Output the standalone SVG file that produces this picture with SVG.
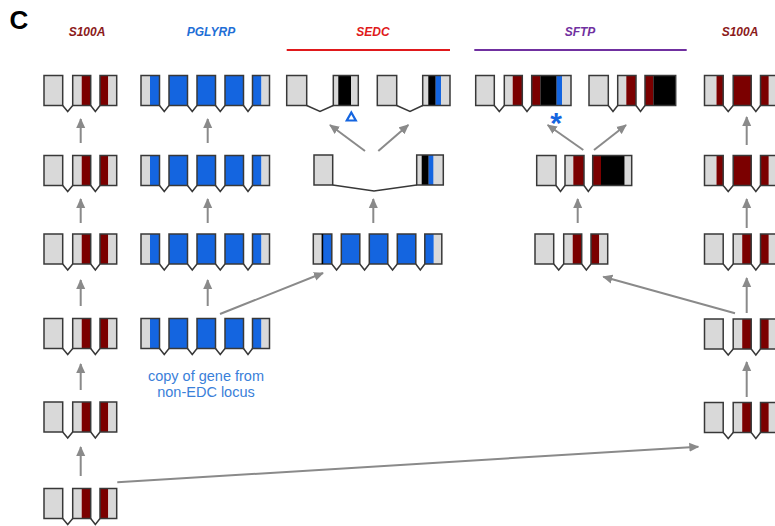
<svg xmlns="http://www.w3.org/2000/svg" width="775" height="526" viewBox="0 0 775 526">
<style>
.gr{fill:#d9d9d9}
.rd{fill:#7b0000}
.bl{fill:#1465e0}
.bk{fill:#000}
.ex{fill:none;stroke:#383838;stroke-width:1.5}
.in{fill:none;stroke:#383838;stroke-width:1.5;stroke-linejoin:miter}
.hd{font-family:"Liberation Sans",Arial,sans-serif;font-size:12px;font-weight:bold;font-style:italic;text-anchor:middle}
.cap{font-family:"Liberation Sans",Arial,sans-serif;font-size:14.5px;fill:#3a80d9;text-anchor:middle}
.ar{fill:none;stroke:#8a8a8a;stroke-width:2;marker-end:url(#ah)}
</style>
<defs>
<marker id="ah" markerUnits="userSpaceOnUse" markerWidth="10" markerHeight="10" viewBox="0 0 10 10" refX="9" refY="5" orient="auto">
<path d="M0,0.5 L10,5 L0,9.5 z" fill="#8a8a8a"/>
</marker>
<g id="s100a">
<rect class="gr" x="0" y="0" width="18.7" height="30"/>
<rect class="gr" x="28.7" y="0" width="9" height="30"/>
<rect class="rd" x="37.7" y="0" width="9" height="30"/>
<rect class="rd" x="56" y="0" width="8.3" height="30"/>
<rect class="gr" x="64.3" y="0" width="8.4" height="30"/>
<rect class="ex" x="0" y="0" width="18.7" height="30"/>
<rect class="ex" x="28.7" y="0" width="18" height="30"/>
<rect class="ex" x="56" y="0" width="16.7" height="30"/>
<polyline class="in" points="18.7,30 23.7,36 28.7,30"/>
<polyline class="in" points="46.7,30 51.35,36 56,30"/>
</g>
<g id="s100b">
<rect class="gr" x="0" y="0" width="12" height="30"/>
<rect class="rd" x="12" y="0" width="6.7" height="30"/>
<rect class="rd" x="28.7" y="0" width="18" height="30"/>
<rect class="rd" x="56" y="0" width="8.3" height="30"/>
<rect class="gr" x="64.3" y="0" width="8.4" height="30"/>
<rect class="ex" x="0" y="0" width="18.7" height="30"/>
<rect class="ex" x="28.7" y="0" width="18" height="30"/>
<rect class="ex" x="56" y="0" width="16.7" height="30"/>
<polyline class="in" points="18.7,30 23.7,36 28.7,30"/>
<polyline class="in" points="46.7,30 51.35,36 56,30"/>
</g>
<g id="pglyrp">
<rect class="gr" x="0" y="0" width="9" height="30"/>
<rect class="bl" x="9" y="0" width="9.5" height="30"/>
<rect class="bl" x="28" y="0" width="18.5" height="30"/>
<rect class="bl" x="56" y="0" width="18.5" height="30"/>
<rect class="bl" x="84" y="0" width="18.5" height="30"/>
<rect class="bl" x="111.5" y="0" width="9" height="30"/>
<rect class="gr" x="120.5" y="0" width="8" height="30"/>
<rect class="ex" x="0" y="0" width="18.5" height="30"/>
<rect class="ex" x="28" y="0" width="18.5" height="30"/>
<rect class="ex" x="56" y="0" width="18.5" height="30"/>
<rect class="ex" x="84" y="0" width="18.5" height="30"/>
<rect class="ex" x="111.5" y="0" width="17" height="30"/>
<polyline class="in" points="18.5,30 23.25,36 28,30"/>
<polyline class="in" points="46.5,30 51.25,36 56,30"/>
<polyline class="in" points="74.5,30 79.25,36 84,30"/>
<polyline class="in" points="102.5,30 107,36 111.5,30"/>
</g>
</defs>
<rect width="775" height="526" fill="#fff"/>

<g id="labels">
<text x="9.5" y="29" font-family="'Liberation Sans',Arial,sans-serif" font-size="26" font-weight="bold" fill="#000">C</text>
<text class="hd" x="87" y="36" fill="#8b1a1a">S100A</text>
<text class="hd" x="211" y="36" fill="#1f6fd6">PGLYRP</text>
<text class="hd" x="373" y="36" fill="#e0191b">SEDC</text>
<text class="hd" x="580" y="36" fill="#7030a0">SFTP</text>
<text class="hd" x="740" y="36" fill="#8b1a1a">S100A</text>
<line x1="286.7" y1="50" x2="450" y2="50" stroke="#e0191b" stroke-width="2"/>
<line x1="474.3" y1="50" x2="686.7" y2="50" stroke="#7030a0" stroke-width="2"/>
<text class="cap" x="206" y="380.5">copy of gene from</text>
<text class="cap" x="206" y="397">non-EDC locus</text>
</g>

<g id="s100a-left-1"><use href="#s100a" x="44" y="75.5"/></g>
<g id="s100a-left-2"><use href="#s100a" x="44" y="155.5"/></g>
<g id="s100a-left-3"><use href="#s100a" x="44" y="234"/></g>
<g id="s100a-left-4"><use href="#s100a" x="44" y="318.5"/></g>
<g id="s100a-left-5"><use href="#s100a" x="44" y="402"/></g>
<g id="s100a-left-6"><use href="#s100a" x="44" y="488.5"/></g>

<g id="pglyrp-1"><use href="#pglyrp" x="141" y="75.5"/></g>
<g id="pglyrp-2"><use href="#pglyrp" x="141" y="155.5"/></g>
<g id="pglyrp-3"><use href="#pglyrp" x="141" y="234"/></g>
<g id="pglyrp-4"><use href="#pglyrp" x="141" y="318.5"/></g>

<g id="sedc-3">
<use href="#pglyrp" x="313.3" y="234"/>
<rect class="bk" x="321.6" y="234" width="1.6" height="30"/>
</g>
<g id="sedc-2">
<rect class="gr" x="314" y="155" width="18.7" height="30"/>
<rect class="gr" x="416.7" y="155" width="26.6" height="30"/>
<rect class="bk" x="421.7" y="155" width="7" height="30"/>
<rect class="bl" x="428.7" y="155" width="4.6" height="30"/>
<rect class="ex" x="314" y="155" width="18.7" height="30"/>
<rect class="ex" x="416.7" y="155" width="26.6" height="30"/>
<polyline class="in" points="332.7,185 374,191 416.7,185"/>
</g>
<g id="sedc-1a">
<rect class="gr" x="286.7" y="75.5" width="20" height="30"/>
<rect class="gr" x="333.3" y="75.5" width="25" height="30"/>
<rect class="bk" x="338.3" y="75.5" width="12.7" height="30"/>
<rect class="ex" x="286.7" y="75.5" width="20" height="30"/>
<rect class="ex" x="333.3" y="75.5" width="25" height="30"/>
<polyline class="in" points="306.7,105.5 320,111.5 333.3,105.5"/>
<polygon points="346.8,120.5 355.8,120.5 351.3,112.5" fill="none" stroke="#1465e0" stroke-width="2.2" stroke-linejoin="miter"/>
</g>
<g id="sedc-1b">
<rect class="gr" x="377.3" y="75.5" width="19.4" height="30"/>
<rect class="gr" x="422.7" y="75.5" width="27.3" height="30"/>
<rect class="bk" x="428.3" y="75.5" width="7.4" height="30"/>
<rect class="bl" x="435.7" y="75.5" width="5.3" height="30"/>
<rect class="ex" x="377.3" y="75.5" width="19.4" height="30"/>
<rect class="ex" x="422.7" y="75.5" width="27.3" height="30"/>
<polyline class="in" points="396.7,105.5 410,111.5 422.7,105.5"/>
</g>

<g id="sftp-3"><use href="#s100a" x="535" y="234"/></g>
<g id="sftp-2">
<rect class="gr" x="536.7" y="155.5" width="19.3" height="30"/>
<rect class="gr" x="565" y="155.5" width="8.3" height="30"/>
<rect class="rd" x="573.3" y="155.5" width="10.7" height="30"/>
<rect class="rd" x="592.7" y="155.5" width="8.3" height="30"/>
<rect class="bk" x="601" y="155.5" width="23.7" height="30"/>
<rect class="gr" x="624.7" y="155.5" width="7" height="30"/>
<rect class="ex" x="536.7" y="155.5" width="19.3" height="30"/>
<rect class="ex" x="565" y="155.5" width="19" height="30"/>
<rect class="ex" x="592.7" y="155.5" width="39" height="30"/>
<polyline class="in" points="556,185.5 560.5,191.5 565,185.5"/>
<polyline class="in" points="584,185.5 588.3,191.5 592.7,185.5"/>
</g>
<g id="sftp-1a">
<rect class="gr" x="475.7" y="75.5" width="18.6" height="30"/>
<rect class="gr" x="504.3" y="75.5" width="8.4" height="30"/>
<rect class="rd" x="512.7" y="75.5" width="9.6" height="30"/>
<rect class="rd" x="531.7" y="75.5" width="8.6" height="30"/>
<rect class="bk" x="540.3" y="75.5" width="16.4" height="30"/>
<rect class="bl" x="556.7" y="75.5" width="5.3" height="30"/>
<rect class="gr" x="562" y="75.5" width="9" height="30"/>
<rect class="ex" x="475.7" y="75.5" width="18.6" height="30"/>
<rect class="ex" x="504.3" y="75.5" width="18" height="30"/>
<rect class="ex" x="531.7" y="75.5" width="39.3" height="30"/>
<polyline class="in" points="494.3,105.5 499.3,111.5 504.3,105.5"/>
<polyline class="in" points="522.3,105.5 527,111.5 531.7,105.5"/>
<text x="556" y="133" font-family="'Liberation Sans',Arial,sans-serif" font-size="30" font-weight="bold" fill="#1465e0" text-anchor="middle">*</text>
</g>
<g id="sftp-1b">
<rect class="gr" x="589" y="75.5" width="19.3" height="30"/>
<rect class="gr" x="617.7" y="75.5" width="8.6" height="30"/>
<rect class="rd" x="626.3" y="75.5" width="9.7" height="30"/>
<rect class="rd" x="645" y="75.5" width="8.3" height="30"/>
<rect class="bk" x="653.3" y="75.5" width="22.4" height="30"/>
<rect class="ex" x="589" y="75.5" width="19.3" height="30"/>
<rect class="ex" x="617.7" y="75.5" width="18.3" height="30"/>
<rect class="ex" x="645" y="75.5" width="30.7" height="30"/>
<polyline class="in" points="608.3,105.5 613,111.5 617.7,105.5"/>
<polyline class="in" points="636,105.5 640.5,111.5 645,105.5"/>
</g>

<g id="s100a-right-1"><use href="#s100b" x="704.5" y="75.5"/></g>
<g id="s100a-right-2"><use href="#s100b" x="704.5" y="155.5"/></g>
<g id="s100a-right-3"><use href="#s100a" x="704.5" y="234"/></g>
<g id="s100a-right-4"><use href="#s100a" x="704.5" y="319"/></g>
<g id="s100a-right-5"><use href="#s100a" x="704.5" y="402.5"/></g>

<g id="connectors">
<line class="ar" x1="80.7" y1="143" x2="80.7" y2="119"/>
<line class="ar" x1="80.7" y1="223" x2="80.7" y2="199"/>
<line class="ar" x1="80.7" y1="306" x2="80.7" y2="280"/>
<line class="ar" x1="80.7" y1="390" x2="80.7" y2="364"/>
<line class="ar" x1="80.7" y1="476" x2="80.7" y2="447"/>
<line class="ar" x1="207.7" y1="143" x2="207.7" y2="119"/>
<line class="ar" x1="207.7" y1="223" x2="207.7" y2="199"/>
<line class="ar" x1="207.7" y1="306" x2="207.7" y2="280"/>
<line class="ar" x1="220" y1="314" x2="323" y2="273"/>
<line class="ar" x1="373.3" y1="223" x2="373.3" y2="199"/>
<line class="ar" x1="365" y1="151" x2="330" y2="125"/>
<line class="ar" x1="378.3" y1="151" x2="408.3" y2="125"/>
<line class="ar" x1="577.7" y1="223" x2="577.7" y2="199"/>
<line class="ar" x1="583.3" y1="150" x2="547.7" y2="125"/>
<line class="ar" x1="594" y1="150" x2="626" y2="125"/>
<line class="ar" x1="746.7" y1="145" x2="746.7" y2="117"/>
<line class="ar" x1="746.7" y1="228" x2="746.7" y2="199"/>
<line class="ar" x1="746.7" y1="313" x2="746.7" y2="278"/>
<line class="ar" x1="746.7" y1="397" x2="746.7" y2="362"/>
<line class="ar" x1="735" y1="313.3" x2="603.3" y2="276.7"/>
<line class="ar" x1="117.3" y1="482.3" x2="698.3" y2="446.7"/>
</g>
</svg>
